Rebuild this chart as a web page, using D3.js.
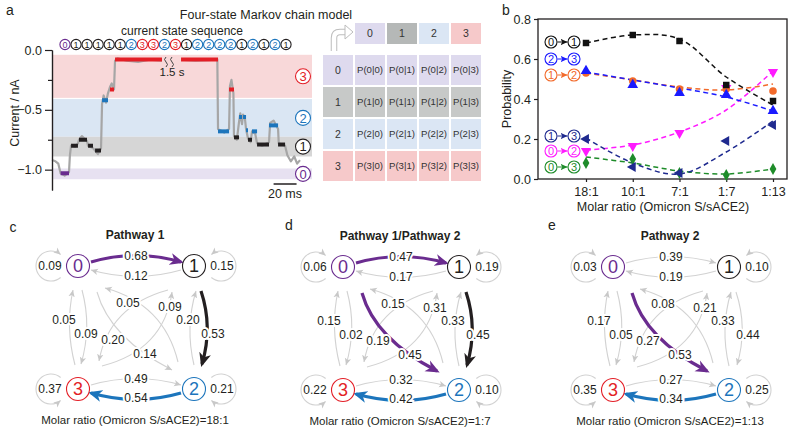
<!DOCTYPE html>
<html>
<head>
<meta charset="utf-8">
<script src="https://cdn.jsdelivr.net/npm/d3@7"></script>
<style>
  body { margin: 0; background: #fff; }
  svg { display: block; }
</style>
</head>
<body>
<svg id="fig" width="798" height="434"></svg>
<script>
// ---------- panel a data ----------
const stateSequence = [0, 1, 1, 1, 1, 1, 2, 3, 3, 2, 3, 1, 2, 2, 2, 2, 1, 2, 1, 2, 1];
const bandState = [3, 2, 1, 0];
const bandTop = [-0.04, -0.41, -0.725, -0.99];
const bandBottom = [-0.40, -0.725, -0.89, -1.08];
// dwell segments: [start ms, end ms, current nA, state]
const dwells = [
  [7.5, 14.8, -1.03, 0], [16.6, 22.6, -0.80, 1], [23.5, 30.5, -0.75, 1], [31.4, 35.7, -0.80, 1],
  [37.5, 42.7, -0.84, 1], [43.6, 48.8, -0.42, 2], [50.5, 54.0, -0.33, 3], [54.9, 95.8, -0.08, 3],
  [112.4, 144.6, -0.08, 3], [144.6, 154.2, -0.68, 2], [154.2, 158.5, -0.33, 3], [158.5, 162.9, -0.73, 1],
  [162.9, 165.5, -0.56, 2], [166.4, 169.0, -0.56, 2], [169.0, 170.7, -0.67, 2], [170.7, 174.2, -0.75, 1],
  [174.2, 178.6, -0.68, 2], [178.6, 189.0, -0.79, 1], [189.0, 196.9, -0.63, 2], [196.9, 203.0, -0.79, 1]
];
// raw current (ms, nA); null = 1.5 s gap
const tracePoints = [
  [0, -0.92], [3, -0.93], [5.5, -0.95], [7.5, -1.03], [11, -1.05], [14.8, -1.02], [15.6, -0.88],
  [16.6, -0.80], [20, -0.81], [22.6, -0.78], [23.5, -0.75], [26, -0.72], [30.5, -0.76], [31.4, -0.80],
  [35.7, -0.82], [37.5, -0.84], [40, -0.87], [42.7, -0.82], [43.6, -0.45], [45, -0.38], [47, -0.44],
  [48.8, -0.36], [50.5, -0.31], [52, -0.28], [54, -0.33], [54.9, -0.09], [57, -0.07], [65, -0.09],
  [75, -0.10], [85, -0.08], [95.8, -0.09], [100, null], [112.4, -0.08], [125, -0.09], [144, -0.08],
  [144.6, -0.66], [150, -0.69], [154.2, -0.66], [155, -0.30], [156.3, -0.25], [158, -0.36],
  [158.5, -0.72], [161, -0.75], [162.9, -0.60], [164, -0.53], [165.5, -0.62], [166.4, -0.54],
  [168, -0.57], [169, -0.66], [170.7, -0.74], [173, -0.77], [174.2, -0.68], [177, -0.70],
  [178.6, -0.78], [183, -0.80], [189, -0.77], [190, -0.61], [193, -0.59], [196.9, -0.66],
  [197.5, -0.78], [203, -0.80], [205, -0.88], [208, -0.93], [211, -0.89], [213.5, -0.95], [216, -0.92]
];
const tableStates = [0, 1, 2, 3];

// ---------- panel b data ----------
const ratios = ['18:1', '10:1', '7:1', '1:7', '1:13'];
const p01 = [0.68, 0.72, 0.69, 0.47, 0.39];
const p12 = [0.53, 0.49, 0.45, 0.45, 0.44];
const p23 = [0.54, 0.47, 0.43, 0.42, 0.34];
const p13 = [0.20, 0.06, 0.03, 0.19, 0.27];
const p02 = [0.14, 0.165, 0.23, 0.455, 0.535];
const p03 = [0.08, 0.10, 0.03, 0.02, 0.05];
const fit01 = [0.68, 0.72, 0.70, 0.51, 0.37];
const fit12 = [0.53, 0.495, 0.46, 0.445, 0.475];
const fit23 = [0.535, 0.495, 0.455, 0.41, 0.34];
const fit13 = [0.205, 0.08, 0.025, 0.135, 0.29];
const fit02 = [0.145, 0.17, 0.235, 0.345, 0.54];
const fit03 = [0.11, 0.08, 0.04, 0.025, 0.05];

// ---------- panels c-e data ----------
const edgeKeys = ['01', '10', '03', '30', '12', '21', '23', '32', '02', '20', '13', '31'];
const probs18to1 = [0.68, 0.12, 0.09, 0.05, 0.53, 0.20, 0.54, 0.49, 0.14, 0.05, 0.20, 0.09];
const probs1to7 = [0.47, 0.17, 0.02, 0.15, 0.45, 0.33, 0.42, 0.32, 0.45, 0.15, 0.19, 0.31];
const probs1to13 = [0.39, 0.19, 0.05, 0.17, 0.44, 0.33, 0.34, 0.27, 0.53, 0.08, 0.27, 0.21];
const self18to1 = [0.09, 0.15, 0.21, 0.37];
const self1to7 = [0.06, 0.19, 0.10, 0.22];
const self1to13 = [0.03, 0.10, 0.25, 0.35];
const paths18to1 = ['01', '12', '23'];
const paths1to7 = ['01', '02', '12', '23'];
const paths1to13 = ['02', '23'];

// ---------- styles ----------
const F = 'Arial, "Liberation Sans", Helvetica, sans-serif';
const stateColors = ['#6a2c8f', '#231f20', '#1c75bc', '#e31e26'];
const bandColors = ['#e7e1f1', '#d6d6d6', '#dae6f3', '#f8d8d9'];
const cellColors = ['#dedaee', '#c7c9c8', '#dbe6f4', '#f6c9ca'];
const headColors = ['#dedaee', '#b5b8b7', '#dbe6f4', '#f6c9ca'];
const edgeGray = '#d2d2d2';

const svg = d3.select('#fig');
const defs = svg.append('defs');

function addText(g, x, y, s, size, o = {}) {
  return g.append('text').attr('x', x).attr('y', y)
    .attr('font-size', size).attr('font-family', F)
    .attr('text-anchor', o.anchor || 'middle')
    .attr('font-weight', o.weight || 'normal')
    .attr('fill', o.fill || '#231f20')
    .attr('dy', o.dy || '0.35em')
    .text(s);
}

function circled(g, x, y, r, digit, color, size) {
  g.append('circle').attr('cx', x).attr('cy', y).attr('r', r)
    .attr('fill', '#fff').attr('stroke', color).attr('stroke-width', 1.1);
  addText(g, x, y, digit, size, { fill: color, dy: '0.36em' });
}

function marker(id, color, big) {
  const m = defs.append('marker').attr('id', id)
    .attr('markerUnits', 'userSpaceOnUse').attr('orient', 'auto');
  if (big) {
    m.attr('viewBox', '0 -7 14 14').attr('refX', 11).attr('refY', 0)
      .attr('markerWidth', 14).attr('markerHeight', 14)
      .append('path').attr('d', 'M0,-6L14,0L0,6L4,0Z').attr('fill', color);
  } else {
    m.attr('viewBox', '0 -4 8 8').attr('refX', 7).attr('refY', 0)
      .attr('markerWidth', 8).attr('markerHeight', 8)
      .append('path').attr('d', 'M0,-3.2L7,0L0,3.2L1.8,0Z').attr('fill', color);
  }
}
marker('arrGray', '#c8c8c8', false);
stateColors.forEach((c, i) => { marker('arrBig' + i, c, true); marker('arrSm' + i, c, false); });

// ================= panel a =================
const gA = svg.append('g');
addText(gA, 10, 10, 'a', 14);
addText(gA, 266, 15, 'Four-state Markov chain model', 12.5);
addText(gA, 182, 30.5, 'current state sequence', 12);

const xA = d3.scaleLinear().domain([0, 216]).range([52, 300]);
const yA = d3.scaleLinear().domain([-1.17, 0]).range([190, 50]);

bandState.forEach((s, i) => {
  gA.append('rect').attr('x', 52).attr('width', 260)
    .attr('y', yA(bandTop[i])).attr('height', yA(bandBottom[i]) - yA(bandTop[i]))
    .attr('fill', bandColors[s]);
  circled(gA, 303, (yA(bandTop[i]) + yA(bandBottom[i])) / 2, 7.5, s, stateColors[s], 13);
});

stateSequence.forEach((s, i) => circled(gA, 65 + i * 11.05, 44.5, 5.1, s, stateColors[s], 9));

const traceLine = d3.line().defined(d => d[1] !== null).x(d => xA(d[0])).y(d => yA(d[1]));
gA.append('path').datum(tracePoints).attr('d', traceLine)
  .attr('fill', 'none').attr('stroke', '#a6a6a6').attr('stroke-width', 2.2)
  .attr('stroke-linejoin', 'round');

gA.selectAll('.dwell').data(dwells).enter().append('line')
  .attr('x1', d => xA(d[0])).attr('x2', d => xA(d[1]))
  .attr('y1', d => yA(d[2])).attr('y2', d => yA(d[2]))
  .attr('stroke', d => stateColors[d[3]]).attr('stroke-width', 4);

// break marks
[166, 172].forEach(x => {
  gA.append('path').attr('d', `M${x},57q-3,2.5 0,5q3,2.5 0,5`)
    .attr('fill', 'none').attr('stroke', '#444').attr('stroke-width', 1);
});
addText(gA, 172, 72, '1.5 s', 11.5);

const axA = gA.append('g').attr('transform', 'translate(52,0)')
  .call(d3.axisLeft(yA).tickValues([-0.25, -0.75]).tickSize(4).tickSizeOuter(0).tickFormat(''));
const axA2 = gA.append('g').attr('transform', 'translate(52,0)')
  .call(d3.axisLeft(yA).tickValues([0, -0.5, -1]).tickSize(7).tickSizeOuter(0).tickFormat(d3.format('.1f')));
[axA, axA2].forEach(ax => {
  ax.attr('font-family', F).attr('font-size', 12.5);
  ax.selectAll('path,line').attr('stroke', '#231f20').attr('stroke-width', 1.2);
  ax.selectAll('text').attr('fill', '#231f20');
});
gA.append('text').attr('transform', 'translate(15,113) rotate(-90)')
  .attr('text-anchor', 'middle').attr('dy', '0.35em')
  .attr('font-family', F).attr('font-size', 12.5).attr('fill', '#231f20').text('Current / nA');

gA.append('line').attr('x1', xA(193)).attr('x2', xA(213)).attr('y1', 184).attr('y2', 184)
  .attr('stroke', '#231f20').attr('stroke-width', 1.5);
addText(gA, 285, 194, '20 ms', 12.5);

// transition table
const cellW = 30, cellH = 30, gap = 2;
const colX = d => 355 + d * (cellW + gap);
const rowY = d => 55 + d * (cellH + gap);
tableStates.forEach(c => {
  gA.append('rect').attr('x', colX(c)).attr('y', 23).attr('width', cellW).attr('height', 21)
    .attr('fill', headColors[c]);
  addText(gA, colX(c) + cellW / 2, 33.5, c, 10.5, { fill: '#333' });
});
tableStates.forEach(r => {
  gA.append('rect').attr('x', 323).attr('y', rowY(r)).attr('width', cellW).attr('height', cellH)
    .attr('fill', cellColors[r]);
  addText(gA, 338, rowY(r) + cellH / 2, r, 10.5, { fill: '#333' });
  tableStates.forEach(c => {
    gA.append('rect').attr('x', colX(c)).attr('y', rowY(r)).attr('width', cellW).attr('height', cellH)
      .attr('fill', cellColors[r]);
    addText(gA, colX(c) + cellW / 2, rowY(r) + cellH / 2, `P(${r}|${c})`, 9.6, { fill: '#333' });
  });
});
// corner bent arrow
const bent = 'M334,51L334,38Q334,32 340,32L346,32';
gA.append('path').attr('d', bent).attr('fill', 'none').attr('stroke', '#bdbdbd').attr('stroke-width', 6.5);
gA.append('path').attr('d', bent).attr('fill', 'none').attr('stroke', '#fff').attr('stroke-width', 4.5);
gA.append('path').attr('d', 'M345,25L353,32L345,39Z').attr('fill', '#fff')
  .attr('stroke', '#bdbdbd').attr('stroke-width', 1);

// ================= panel b =================
const gB = svg.append('g');
addText(gB, 506, 10, 'b', 14);
const xB = d3.scalePoint().domain(ratios).range([586, 773]);
const yB = d3.scaleLinear().domain([0, 0.8]).range([179, 19]);

const axY = gB.append('g').attr('transform', 'translate(538,0)')
  .call(d3.axisLeft(yB).tickValues([0, 0.2, 0.4, 0.6, 0.8]).tickFormat(d3.format('.1f')).tickSize(4).tickSizeOuter(0));
const axX = gB.append('g').attr('transform', 'translate(0,179)')
  .call(d3.axisBottom(xB).tickSize(3).tickPadding(5).tickSizeOuter(0));
[axY, axX].forEach(ax => {
  ax.attr('font-family', F).attr('font-size', 12.5);
  ax.select('.domain').remove();
  ax.selectAll('line').attr('stroke', '#231f20').attr('stroke-width', 1.2);
  ax.selectAll('text').attr('fill', '#231f20');
});
gB.append('rect').attr('x', 538).attr('y', 19).attr('width', 249).attr('height', 160)
  .attr('fill', 'none').attr('stroke', '#231f20').attr('stroke-width', 1.3);
gB.append('text').attr('transform', 'translate(507,99) rotate(-90)')
  .attr('text-anchor', 'middle').attr('dy', '0.35em')
  .attr('font-family', F).attr('font-size', 12.5).attr('fill', '#231f20').text('Probability');
addText(gB, 663, 207, 'Molar ratio (Omicron S/sACE2)', 12.5);

const series = [
  { p: p03, fit: fit03, color: '#1e8c2a', sym: d3.symbolDiamond, rot: 0, size: 40, from: 0, to: 3, ly: 167 },
  { p: p02, fit: fit02, color: '#ff1aff', sym: d3.symbolTriangle, rot: 180, size: 45, from: 0, to: 2, ly: 151 },
  { p: p13, fit: fit13, color: '#1f2a8f', sym: d3.symbolTriangle, rot: -90, size: 45, from: 1, to: 3, ly: 136 },
  { p: p12, fit: fit12, color: '#f26a2b', sym: d3.symbolCircle, rot: 0, size: 45, from: 1, to: 2, ly: 75 },
  { p: p23, fit: fit23, color: '#1a1aff', sym: d3.symbolTriangle, rot: 0, size: 50, from: 2, to: 3, ly: 59 },
  { p: p01, fit: fit01, color: '#111111', sym: d3.symbolSquare, rot: 0, size: 42, from: 0, to: 1, ly: 42 }
];
const fitLine = d3.line().x((d, i) => xB(ratios[i])).y(d => yB(d)).curve(d3.curveCatmullRom.alpha(0.5));
series.forEach((s, k) => {
  gB.append('path').datum(s.fit).attr('d', fitLine).attr('fill', 'none')
    .attr('stroke', s.color).attr('stroke-width', 1.5).attr('stroke-dasharray', '5,3.5');
  marker('leg' + k, s.color, false);
});
series.forEach((s, k) => {
  gB.selectAll(null).data(s.p).enter().append('path')
    .attr('d', d3.symbol().type(s.sym).size(s.size))
    .attr('transform', (d, i) => `translate(${xB(ratios[i])},${yB(d)}) rotate(${s.rot})`)
    .attr('fill', s.color);
  // legend
  circled(gB, 551, s.ly, 6, s.from, s.color, 11);
  circled(gB, 574, s.ly, 6, s.to, s.color, 11);
  gB.append('line').attr('x1', 557.5).attr('x2', 567.5).attr('y1', s.ly).attr('y2', s.ly)
    .attr('stroke', s.color).attr('stroke-width', 1)
    .attr('marker-end', `url(#leg${k})`);
});

// ================= panels c-e =================
const nodeLocal = [[0, 0], [116, 0], [116, 123], [0, 123]];
// start, control, end, label (local coords, node 0 at origin)
const edgeGeom = {
  '01': [[13, -4], [58, -17], [103, -4], [58, -10]],
  '10': [[103, 4], [58, 17], [13, 4], [58, 10]],
  '32': [[13, 119], [58, 106], [103, 119], [58, 113]],
  '23': [[103, 127], [58, 140], [13, 127], [58, 132]],
  '30': [[-3, 99], [-13, 61], [-5, 24], [-14, 54]],
  '03': [[4, 24], [14, 61], [3, 98], [8, 68]],
  '21': [[116, 99], [107, 61], [118, 25], [110, 54]],
  '12': [[123, 25], [135, 61], [124, 98], [135, 68]],
  '02': [[19, 26], [32, 72], [94, 104], [67, 88]],
  '20': [[100, 96], [86, 38], [27, 22], [50, 37]],
  '13': [[90, 24], [31, 40], [21, 95], [35, 74]],
  '31': [[24, 100], [86, 84], [94, 26], [92, 41]]
};
const panels = [
  { letter: 'c', lx: 13, ly: 227, ox: 78, oy: 266, title: 'Pathway 1', ratio: '18:1', probs: probs18to1, self: self18to1, hl: paths18to1 },
  { letter: 'd', lx: 289, ly: 225, ox: 343, oy: 267, title: 'Pathway 1/Pathway 2', ratio: '1:7', probs: probs1to7, self: self1to7, hl: paths1to7 },
  { letter: 'e', lx: 552, ly: 225, ox: 613, oy: 267, title: 'Pathway 2', ratio: '1:13', probs: probs1to13, self: self1to13, hl: paths1to13 }
];
const loopSide = [-1, 1, 1, -1];
const loopAngles = [[50, 310, 1], [130, -130, 0], [-130, 130, 1], [-50, 50, 0]];

panels.forEach(p => {
  addText(svg, p.lx, p.ly, p.letter, 14);
  const g = svg.append('g').attr('transform', `translate(${p.ox},${p.oy})`);
  addText(g, 57, -31, p.title, 12, { weight: 'bold' });
  addText(g, 57, 154, `Molar ratio (Omicron S/sACE2)=${p.ratio}`, 11.5);

  // self loops
  nodeLocal.forEach((n, i) => {
    const cx = n[0] + loopSide[i] * 27, cy = n[1], r = 15;
    const [a0, a1, sw] = loopAngles[i];
    const pt = a => [cx + r * Math.cos(a * Math.PI / 180), cy + r * Math.sin(a * Math.PI / 180)];
    const s = pt(a0), e = pt(a1);
    g.append('path').attr('d', `M${s[0]},${s[1]}A${r},${r} 0 1 ${sw} ${e[0]},${e[1]}`)
      .attr('fill', 'none').attr('stroke', edgeGray).attr('stroke-width', 1.1)
      .attr('marker-end', 'url(#arrGray)');
    addText(g, n[0] + loopSide[i] * 28, n[1], p.self[i].toFixed(2), 12);
  });

  const curve = k => { const [a, c, b] = edgeGeom[k]; return `M${a[0]},${a[1]}Q${c[0]},${c[1]} ${b[0]},${b[1]}`; };
  edgeKeys.filter(k => !p.hl.includes(k)).forEach(k => {
    g.append('path').attr('d', curve(k)).attr('fill', 'none')
      .attr('stroke', edgeGray).attr('stroke-width', 1.1).attr('marker-end', 'url(#arrGray)');
  });
  p.hl.forEach(k => {
    const src = +k[0];
    g.append('path').attr('d', curve(k)).attr('fill', 'none')
      .attr('stroke', stateColors[src]).attr('stroke-width', 3.2).attr('marker-end', `url(#arrBig${src})`);
  });
  edgeKeys.forEach((k, i) => {
    const lab = edgeGeom[k][3];
    addText(g, lab[0], lab[1], p.probs[i].toFixed(2), 12)
      .attr('stroke', '#fff').attr('stroke-width', 4).attr('paint-order', 'stroke');
  });
  nodeLocal.forEach((n, i) => circled(g, n[0], n[1], 11.5, i, stateColors[i], 18));
});
</script>
</body>
</html>
